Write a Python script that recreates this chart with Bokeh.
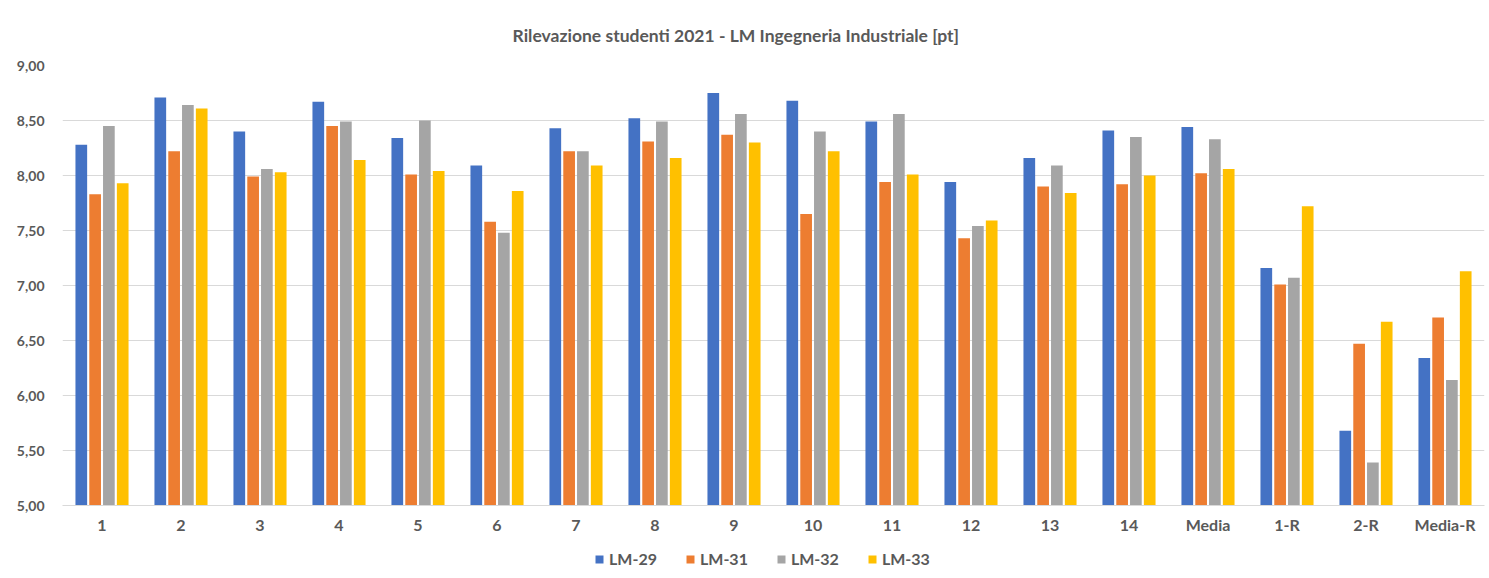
from bokeh.plotting import figure
from bokeh.layouts import column
from bokeh.models import (FactorRange, FixedTicker, CustomJSTickFormatter, Legend, LegendItem,
                          ColumnDataSource)
from bokeh.transform import dodge
from bokeh.embed import file_html
from bokeh.resources import INLINE

categories = ["1", "2", "3", "4", "5", "6", "7", "8", "9", "10", "11", "12", "13", "14",
              "Media", "1-R", "2-R", "Media-R"]
lm29 = [8.28, 8.71, 8.40, 8.67, 8.34, 8.09, 8.43, 8.52, 8.75, 8.68, 8.49, 7.94, 8.16, 8.41, 8.44, 7.16, 5.68, 6.34]
lm31 = [7.83, 8.22, 7.99, 8.45, 8.01, 7.58, 8.22, 8.31, 8.37, 7.65, 7.94, 7.43, 7.90, 7.92, 8.02, 7.01, 6.47, 6.71]
lm32 = [8.45, 8.64, 8.06, 8.49, 8.50, 7.48, 8.22, 8.49, 8.56, 8.40, 8.56, 7.54, 8.09, 8.35, 8.33, 7.07, 5.39, 6.14]
lm33 = [7.93, 8.61, 8.03, 8.14, 8.04, 7.86, 8.09, 8.16, 8.30, 8.22, 8.01, 7.59, 7.84, 8.00, 8.06, 7.72, 6.67, 7.13]
series_names = ["LM-29", "LM-31", "LM-32", "LM-33"]
colors = ["#4472C4", "#ED7D31", "#A5A5A5", "#FFC000"]
y_ticks = [5.0, 5.5, 6.0, 6.5, 7.0, 7.5, 8.0, 8.5, 9.0]

source = ColumnDataSource(dict(cat=categories, s0=lm29, s1=lm31, s2=lm32, s3=lm33))

FONT = "Lato"
TXT = "#595959"

p = figure(x_range=FactorRange(factors=categories), y_range=(5, 9),
           width=1487, height=533, frame_width=1422, frame_height=440,
           output_backend="svg", toolbar_location=None,
           min_border_left=62, min_border_right=3, min_border_top=65, min_border_bottom=28)

p.title.text = "Rilevazione studenti 2021 - LM Ingegneria Industriale [pt]"
p.title.align = "left"
p.title.text_font = FONT
p.title.text_font_size = "17.5px"
p.title.text_font_style = "bold"
p.title.text_color = TXT
p.title.offset = 450
p.title.standoff = 40

offsets = [-0.262, -0.087, 0.087, 0.262]
for i, (col, off) in enumerate(zip(colors, offsets)):
    p.vbar(x=dodge("cat", off, range=p.x_range), top="s%d" % i, bottom=5, width=0.148,
           source=source, fill_color=col, line_color=None)

p.outline_line_color = None
p.xgrid.grid_line_color = None
p.ygrid.grid_line_color = "#d9d9d9"
p.ygrid.grid_line_width = 1

p.yaxis.ticker = FixedTicker(ticks=y_ticks)
p.yaxis.formatter = CustomJSTickFormatter(code="return tick.toFixed(2).replace('.', ',');")
p.yaxis.axis_line_color = None
p.yaxis.major_tick_line_color = None
p.yaxis.minor_tick_line_color = None
p.yaxis.major_tick_out = 0
p.yaxis.major_tick_in = 0
p.yaxis.major_label_standoff = 18
p.yaxis.major_label_text_font = FONT
p.yaxis.major_label_text_font_size = "14px"
p.yaxis.major_label_text_font_style = "bold"
p.yaxis.major_label_text_color = TXT

p.xaxis.axis_line_color = "#d9d9d9"
p.xaxis.major_tick_line_color = None
p.xaxis.minor_tick_line_color = None
p.xaxis.major_tick_out = 0
p.xaxis.major_tick_in = 0
p.xaxis.major_label_standoff = 9
p.xaxis.major_label_text_font = FONT
p.xaxis.major_label_text_font_size = "16px"
p.xaxis.major_label_text_font_style = "bold"
p.xaxis.major_label_text_color = TXT

# legend strip below the chart (its bars sit outside its own y range, only the legend shows)
lg = figure(width=1487, height=42, x_range=FactorRange(factors=categories), y_range=(100, 101),
            x_axis_location=None, y_axis_location=None,
            output_backend="svg", toolbar_location=None,
            min_border_left=0, min_border_right=0, min_border_top=0, min_border_bottom=0)
lg.grid.grid_line_color = None
lg.outline_line_color = None
items = []
for i, (name, col) in enumerate(zip(series_names, colors)):
    r = lg.vbar(x="cat", top="s%d" % i, bottom=5, width=0.1, source=source,
                fill_color=col, line_color=None)
    items.append(LegendItem(label=name, renderers=[r]))

legend = Legend(items=items, orientation="horizontal", location=(532, 10),
                label_text_font=FONT, label_text_font_size="16px", label_text_font_style="bold",
                label_text_color=TXT, glyph_width=10, glyph_height=10, spacing=28,
                label_standoff=5, border_line_color=None, background_fill_alpha=0,
                padding=4, margin=0)
lg.add_layout(legend, "center")

layout = column(p, lg, spacing=0)
open("out.html", "w").write(file_html(layout, INLINE))
